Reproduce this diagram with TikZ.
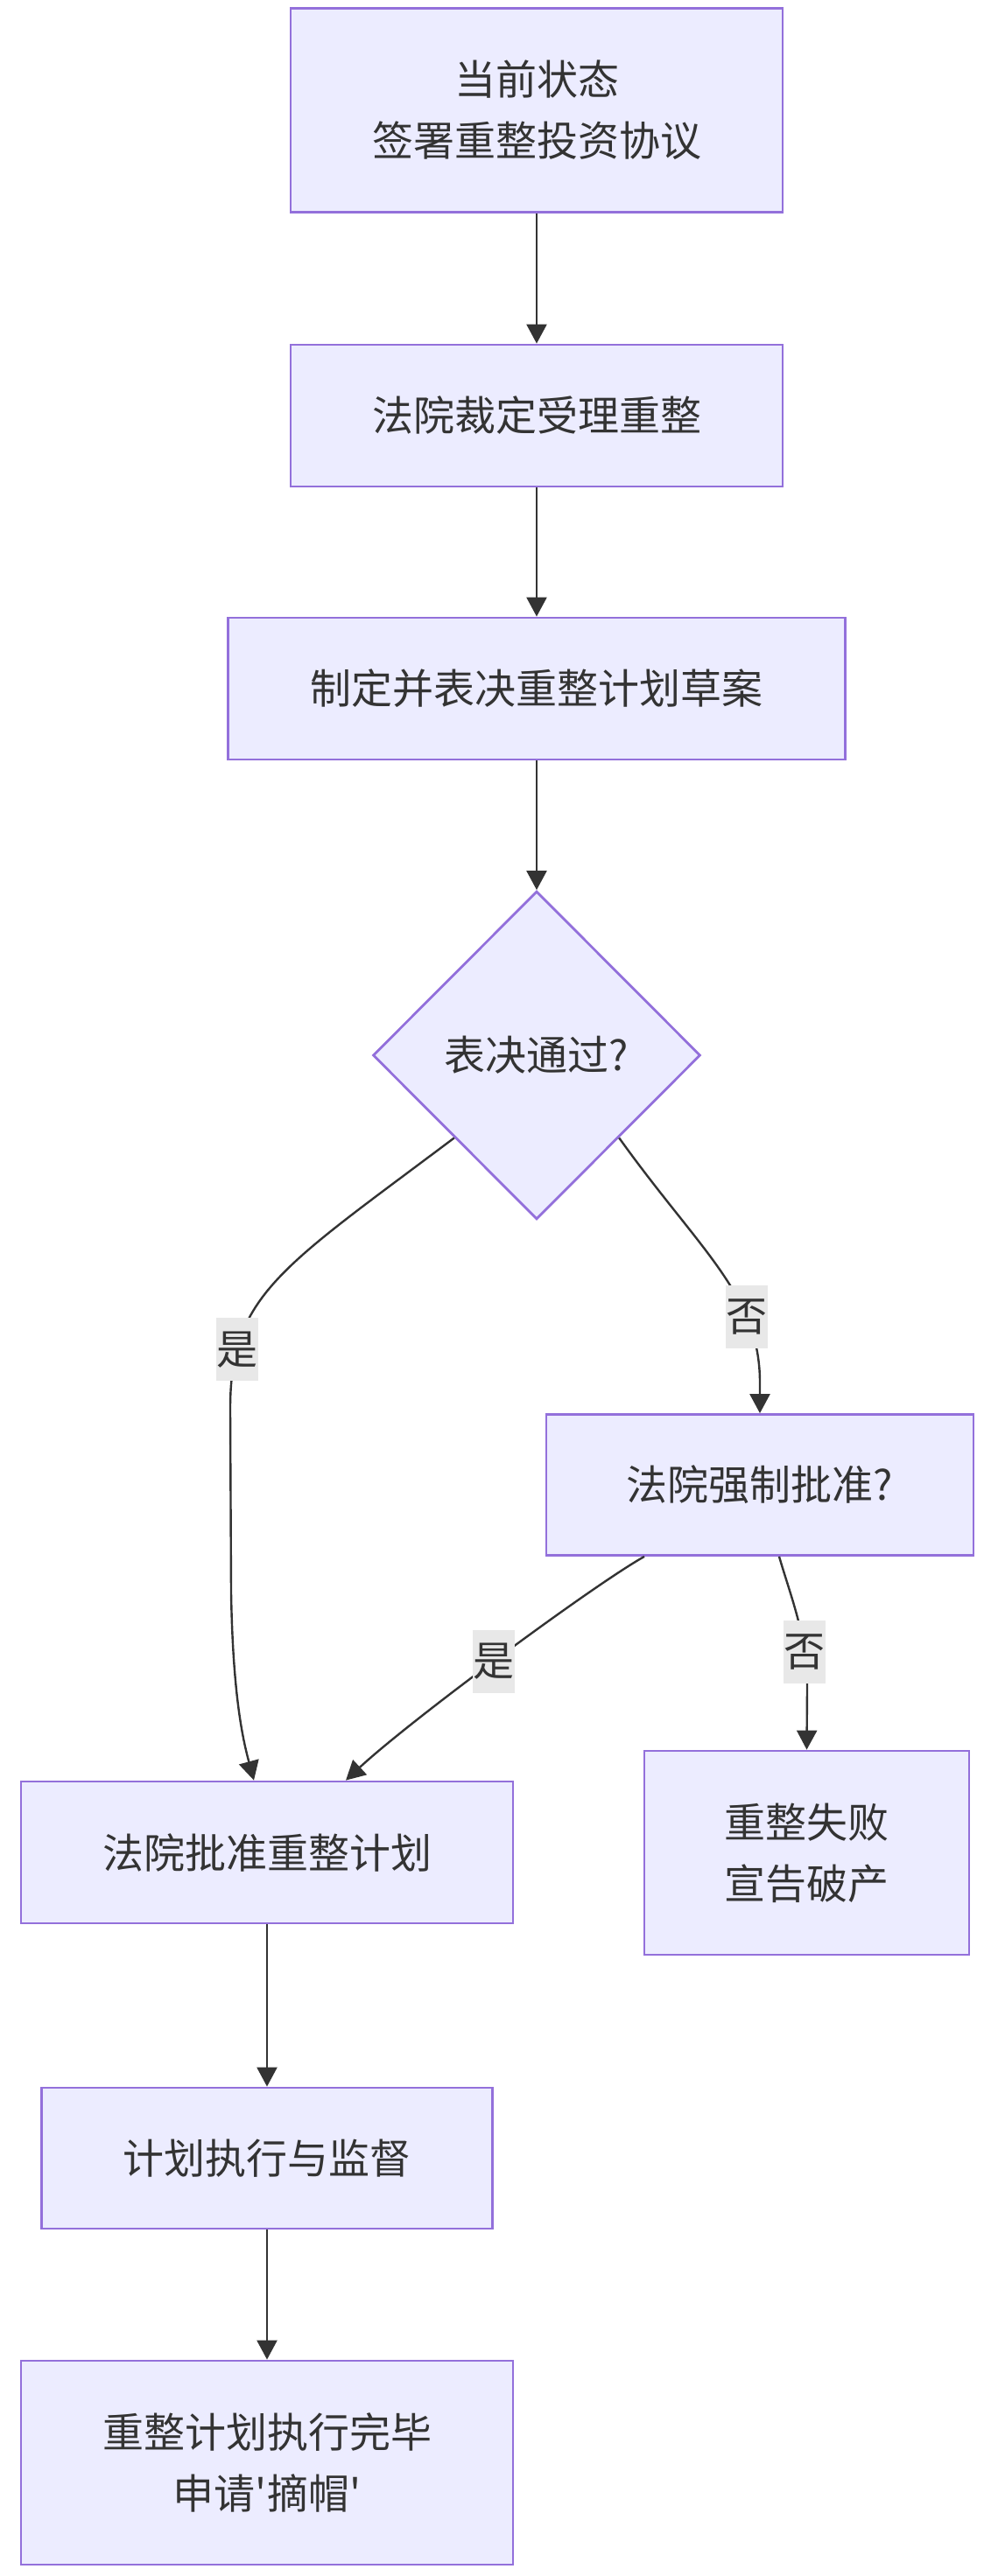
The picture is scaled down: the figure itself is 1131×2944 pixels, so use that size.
\documentclass[tikz,border=0pt]{standalone}
\usepackage{fontspec}
\setmainfont{Noto Sans CJK SC}[Ligatures=TeXOff]
\usetikzlibrary{shapes.geometric,arrows.meta}

\definecolor{boxfill}{HTML}{ECECFF}
\definecolor{boxline}{HTML}{9370DB}
\definecolor{ink}{HTML}{333333}
\definecolor{lblfill}{HTML}{E8E8E8}

\tikzset{
    stepbox/.style={draw=boxline, fill=boxfill, line width=1.4pt, align=center,
        text=ink, font=\fontsize{23.5}{35}\selectfont, inner sep=0pt},
    choice/.style={stepbox, diamond, aspect=1},
    flow/.style={draw=ink, line width=1.2pt, -{Triangle[length=11pt,width=11.5pt]}},
    lbl/.style={fill=lblfill, text=ink, font=\fontsize{23.5}{35}\selectfont,
        inner sep=0pt, minimum width=24pt, minimum height=36pt}
}

\begin{document}
\begin{tikzpicture}[x=0.5pt, y=-0.5pt]
            \def\xm{613};
            \def\xl{305};
            \def\xr{868};

            \useasboundingbox (0,0) rectangle (1131,2944);

            % main column
            \node[stepbox, minimum width=281pt, minimum height=116.5pt] (now) at (\xm,126) {当前状态\\签署重整投资协议};
            \node[stepbox, minimum width=281pt, minimum height=81pt] (accept) at (\xm,475) {法院裁定受理重整};
            \node[stepbox, minimum width=352.5pt, minimum height=81pt] (draft) at (\xm,787) {制定并表决重整计划草案};
            \node[choice, minimum width=187pt, minimum height=187.5pt] (vote) at (\xm,1206) {表决通过?};

            % right branch
            \node[stepbox, minimum width=244pt, minimum height=80.5pt] (force) at (\xr,1697) {法院强制批准?};
            \node[stepbox, minimum width=185.5pt, minimum height=116.5pt] (fail) at (921.5,2117.5) {重整失败\\宣告破产};

            % left column
            \node[stepbox, minimum width=281pt, minimum height=81pt] (ok) at (\xl,2117) {法院批准重整计划};
            \node[stepbox, minimum width=257.5pt, minimum height=80.5pt] (exec) at (\xl,2466.5) {计划执行与监督};
            \node[stepbox, minimum width=281pt, minimum height=116.5pt] (done) at (\xl,2814.5) {重整计划执行完毕\\申请'摘帽'};

            \draw[flow] (now) -- (accept);
            \draw[flow] (accept) -- (draft);
            \draw[flow] (draft) -- (vote);

            \draw[flow] (vote.south west) .. controls (320,1450) and (263,1480) .. node[lbl, pos=0.8] (yes1) {是} (263,1610)
                -- (264,1820) .. controls (266,1940) and (278,1990) .. ([xshift=-7.5pt]ok.north);
            \draw[flow] (vote.south east) .. controls (800,1430) and (868,1480) .. node[lbl, pos=0.72] (no1) {否} (868,1580)
                -- (force.north);

            \draw[flow] ([xshift=-66pt]force.south) .. controls (680,1810) and (470,1965) .. node[lbl, pos=0.52] (yes2) {是} ([xshift=45pt]ok.north);
            \draw[flow] ([xshift=11pt]force.south) .. controls (905,1830) and (922,1870) .. node[lbl, pos=0.75] (no2) {否} (922,1930)
                -- (fail.north);

            \draw[flow] (ok) -- (exec);
            \draw[flow] (exec) -- (done);

        \end{tikzpicture}
\end{document}
